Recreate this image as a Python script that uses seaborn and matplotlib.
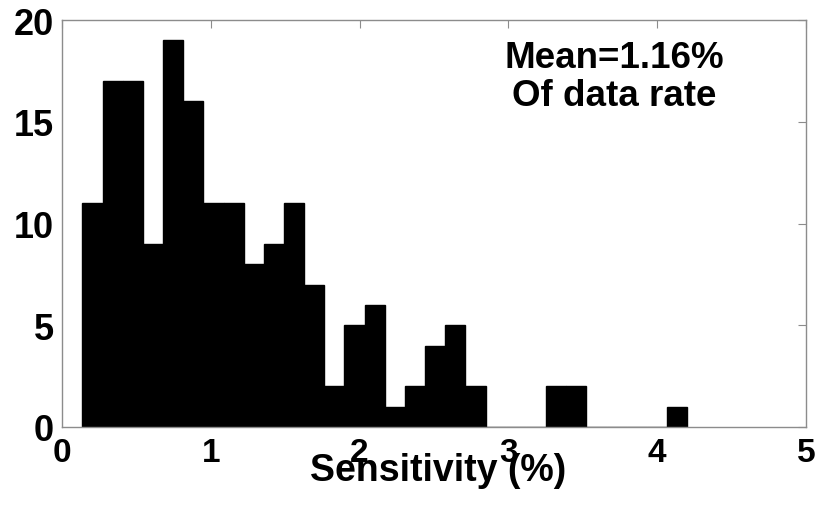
import numpy as np
import pandas as pd
import seaborn as sns
import matplotlib.pyplot as plt

# histogram: 30 equal bins between min and max
bin_min = 0.137
bin_max = 4.202
counts = [11, 17, 17, 9, 19, 16, 11, 11, 8, 9,
          11, 7, 2, 5, 6, 1, 2, 4, 5, 2,
          0, 0, 0, 2, 2, 0, 0, 0, 0, 1]
x_ticks = [0, 1, 2, 3, 4, 5]
y_ticks = [0, 5, 10, 15, 20]
note = "Mean=1.16%\nOf data rate"
x_label = "Sensitivity (%)"

edges = np.linspace(bin_min, bin_max, len(counts) + 1)
df = pd.DataFrame({
    "center": (edges[:-1] + edges[1:]) / 2,
    "count": counts,
})

sns.set_style("white")
plt.rcParams["font.family"] = ["Liberation Sans", "DejaVu Sans"]
plt.rcParams["text.color"] = "black"
plt.rcParams["xtick.labelcolor"] = "black"
plt.rcParams["ytick.labelcolor"] = "black"

fig = plt.figure(figsize=(8.17, 5.10), dpi=100)
ax = fig.add_axes([0.0759, 0.1608, 0.9106, 0.798])

sns.histplot(
    data=df, x="center", weights="count",
    bins=len(counts), binrange=(bin_min, bin_max),
    color="black", edgecolor="black", linewidth=1.0, alpha=1, ax=ax,
)

ax.set_xlim(0, 5)
ax.set_ylim(0, 20)
ax.set_xticks(x_ticks)
ax.set_yticks(y_ticks)
ax.set_ylabel("")
ax.set_xlabel(x_label, fontsize=27, fontweight="bold", color="black",
              va="baseline")
ax.xaxis.set_label_coords(0.506, -53 / 407)

for s in ax.spines.values():
    s.set_color("#8c8c8c")
    s.set_linewidth(1.0)
ax.tick_params(direction="in", length=6, width=0.8, color="#8c8c8c",
               top=True, right=True)
ax.tick_params(axis="x", pad=7, labelsize=24)
ax.tick_params(axis="y", pad=6, labelsize=26)
for lab in ax.get_xticklabels() + ax.get_yticklabels():
    lab.set_fontweight("bold")

ax.text(0.742, 0.95, note, transform=ax.transAxes, ha="center", va="top",
        fontsize=26.5, fontweight="bold", color="black", linespacing=1.1)

fig.savefig("out.png", dpi=100)
